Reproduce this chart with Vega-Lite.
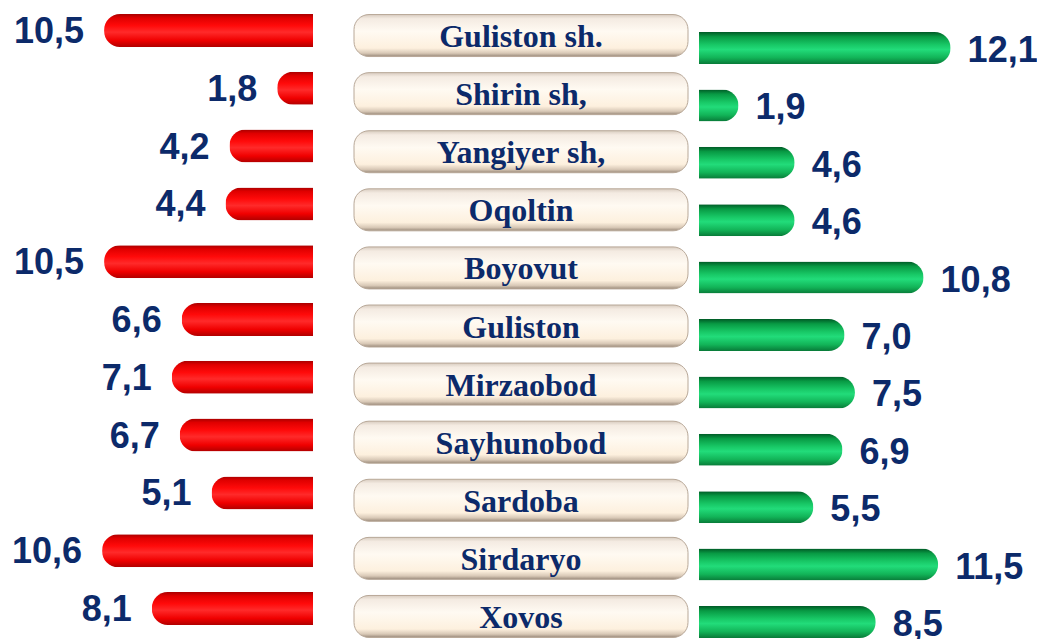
{
  "$schema": "https://vega.github.io/schema/vega-lite/v6.json",
  "padding": 0,
  "background": "#ffffff",
  "config": {
    "view": {"stroke": null},
    "locale": {"number": {"decimal": ",", "thousands": " ", "grouping": [3], "currency": ["", ""]}}
  },
  "data": {
    "values": [
      {"name": "Guliston sh.", "a": 10.5, "b": 12.1},
      {"name": "Shirin sh,", "a": 1.8, "b": 1.9},
      {"name": "Yangiyer sh,", "a": 4.2, "b": 4.6},
      {"name": "Oqoltin", "a": 4.4, "b": 4.6},
      {"name": "Boyovut", "a": 10.5, "b": 10.8},
      {"name": "Guliston", "a": 6.6, "b": 7.0},
      {"name": "Mirzaobod", "a": 7.1, "b": 7.5},
      {"name": "Sayhunobod", "a": 6.7, "b": 6.9},
      {"name": "Sardoba", "a": 5.1, "b": 5.5},
      {"name": "Sirdaryo", "a": 10.6, "b": 11.5},
      {"name": "Xovos", "a": 8.1, "b": 8.5}
    ]
  },
  "spacing": 10,
  "hconcat": [
    {
      "spacing": 40,
      "hconcat": [
        {
          "width": 313,
          "height": 639,
          "encoding": {
            "y": {"field": "name", "type": "nominal", "sort": null, "axis": null,
                  "scale": {"paddingInner": 0, "paddingOuter": 0.0277, "align": 0.5}},
            "x": {"field": "a", "type": "quantitative", "axis": null,
                  "scale": {"domain": [0, 15.73], "reverse": true, "nice": false, "zero": true}}
          },
          "layer": [
            {
              "mark": {"type": "bar", "height": 33, "cornerRadiusTopLeft": 16, "cornerRadiusBottomLeft": 16,
                "color": {"gradient": "linear", "x1": 0, "y1": 0, "x2": 0, "y2": 1,
                  "stops": [
                    {"offset": 0, "color": "#a80000"},
                    {"offset": 0.12, "color": "#e00000"},
                    {"offset": 0.35, "color": "#ff0a0a"},
                    {"offset": 0.55, "color": "#ff2a2a"},
                    {"offset": 0.8, "color": "#f00000"},
                    {"offset": 1, "color": "#b00000"}
                  ]}}
            },
            {
              "mark": {"type": "text", "align": "right", "baseline": "alphabetic", "dx": -20, "dy": 12.5,
                "font": "Liberation Sans", "fontWeight": "bold", "fontSize": 36, "color": "#0c2a6a"},
              "encoding": {"text": {"field": "a", "type": "quantitative", "format": ".1f"}}
            }
          ]
        },
        {
          "width": 334,
          "height": 639,
          "encoding": {
            "y": {"field": "name", "type": "nominal", "sort": null, "axis": null,
                  "scale": {"paddingInner": 0, "paddingOuter": 0}}
          },
          "layer": [
            {
              "mark": {"type": "bar", "height": 42, "yOffset": 6.5, "cornerRadius": 15,
                "stroke": "#b8a898", "strokeWidth": 1,
                "color": {"gradient": "linear", "x1": 0, "y1": 0, "x2": 0, "y2": 1,
                  "stops": [
                    {"offset": 0, "color": "#d8ccc0"},
                    {"offset": 0.1, "color": "#f4ebe2"},
                    {"offset": 0.4, "color": "#fffaf2"},
                    {"offset": 0.8, "color": "#fdf0de"},
                    {"offset": 0.92, "color": "#d8c8b6"},
                    {"offset": 1, "color": "#9a8a7a"}
                  ]}},
              "encoding": {
                "x": {"datum": 0, "type": "quantitative", "axis": null, "scale": {"domain": [0, 1], "nice": false}},
                "x2": {"datum": 1}
              }
            },
            {
              "mark": {"type": "text", "align": "center", "baseline": "alphabetic", "dy": 18,
                "font": "Liberation Serif", "fontWeight": "bold", "fontSize": 32, "color": "#0c2a6a"},
              "encoding": {
                "x": {"datum": 0.5, "type": "quantitative"},
                "text": {"field": "name", "type": "nominal"}
              }
            }
          ]
        }
      ]
    },
    {
      "width": 340,
      "height": 639,
      "encoding": {
        "y": {"field": "name", "type": "nominal", "sort": null, "axis": null,
              "scale": {"paddingInner": 0, "paddingOuter": 0.0662, "align": 0}},
        "x": {"field": "b", "type": "quantitative", "axis": null,
              "scale": {"domain": [0, 16.35], "nice": false, "zero": true}}
      },
      "layer": [
        {
          "mark": {"type": "bar", "height": 32, "yOffset": 19.3, "cornerRadiusTopRight": 16, "cornerRadiusBottomRight": 16,
            "color": {"gradient": "linear", "x1": 0, "y1": 0, "x2": 0, "y2": 1,
              "stops": [
                {"offset": 0, "color": "#005a26"},
                {"offset": 0.15, "color": "#089a44"},
                {"offset": 0.4, "color": "#18c866"},
                {"offset": 0.55, "color": "#22dc7a"},
                {"offset": 0.8, "color": "#12b458"},
                {"offset": 1, "color": "#087a38"}
              ]}}
        },
        {
          "mark": {"type": "text", "align": "left", "baseline": "alphabetic", "dx": 17, "yOffset": 19.3, "dy": 14,
            "font": "Liberation Sans", "fontWeight": "bold", "fontSize": 36, "color": "#0c2a6a"},
          "encoding": {"text": {"field": "b", "type": "quantitative", "format": ".1f"}}
        }
      ]
    }
  ]
}
